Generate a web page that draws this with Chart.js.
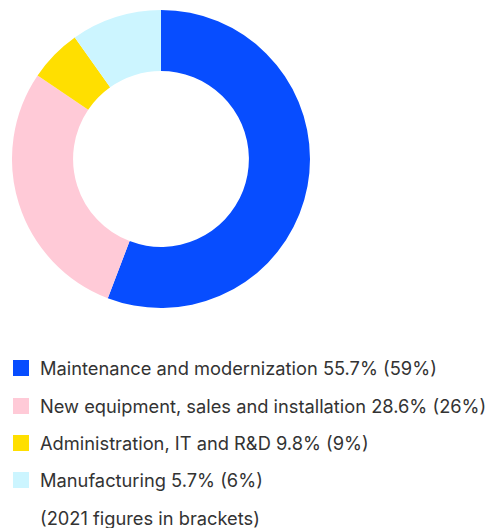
<!DOCTYPE html>
<html>
<head>
<meta charset="utf-8">
<script src="https://cdn.jsdelivr.net/npm/chart.js@4"></script>
<style>
  html, body { margin: 0; padding: 0; background: #fff; }
  body { width: 491px; height: 528px; position: relative; overflow: hidden; font-family: Inter, sans-serif; }
  #chart-box { position: absolute; left: 0; top: 0; width: 322px; height: 318px; }
  #leyenda { position: absolute; left: 0; top: 0; margin: 0; padding: 0; list-style: none; }
  #leyenda li { position: absolute; left: 13px; height: 16px; white-space: nowrap; }
  #leyenda .caja { position: absolute; left: 0; top: 0; width: 16px; height: 16px; }
  #leyenda .texto { position: absolute; left: 27px; top: -3px; font-size: 18.3px; line-height: 22px; color: #333; }
</style>
</head>
<body>
<div id="chart-box"><canvas id="myChart"></canvas></div>
<ul id="leyenda"></ul>
<script>
// DATOS

const categorias = [
    'Maintenance and modernization 55.7% (59%)',
    'New equipment, sales and installation 28.6% (26%)',
    'Administration, IT and R&D 9.8% (9%)',
    'Manufacturing 5.7% (6%)'
];
// valores tal como se dibujan los sectores en la imagen
const valores = [55.7, 28.6, 5.7, 9.8];
const colores = ['#074dff', '#ffcad7', '#ffdf00', '#ccf5ff'];
const notaPie = '(2021 figures in brackets)';

// GRAFICO

const ctx = document.getElementById('myChart').getContext('2d');
const myChart = new Chart(ctx, {
    type: 'doughnut',
    data: {
        labels: categorias,
        datasets: [{
            data: valores,
            backgroundColor: colores,
            borderWidth: 0,
            hoverOffset: 0
        }]
    },
    options: {
        responsive: true,
        maintainAspectRatio: false,
        animation: false,
        cutout: '59%',
        layout: { padding: 10 },
        plugins: {
            legend: { display: false },
            tooltip: { enabled: false }
        }
    }
});

// LEYENDA

const leyenda = document.querySelector('#leyenda');
const filaTop = [360, 397.5, 435, 472, 509.5];

categorias.forEach((nombre, i) => {
    const li = document.createElement('li');
    li.style.top = filaTop[i] + 'px';
    li.innerHTML = `<span class="caja" style="background:${colores[i]}"></span><span class="texto"></span>`;
    li.querySelector('.texto').textContent = nombre;
    leyenda.appendChild(li);
});

const nota = document.createElement('li');
nota.style.top = filaTop[4] + 'px';
nota.innerHTML = '<span class="texto"></span>';
nota.querySelector('.texto').textContent = notaPie;
leyenda.appendChild(nota);
</script>
</body>
</html>
